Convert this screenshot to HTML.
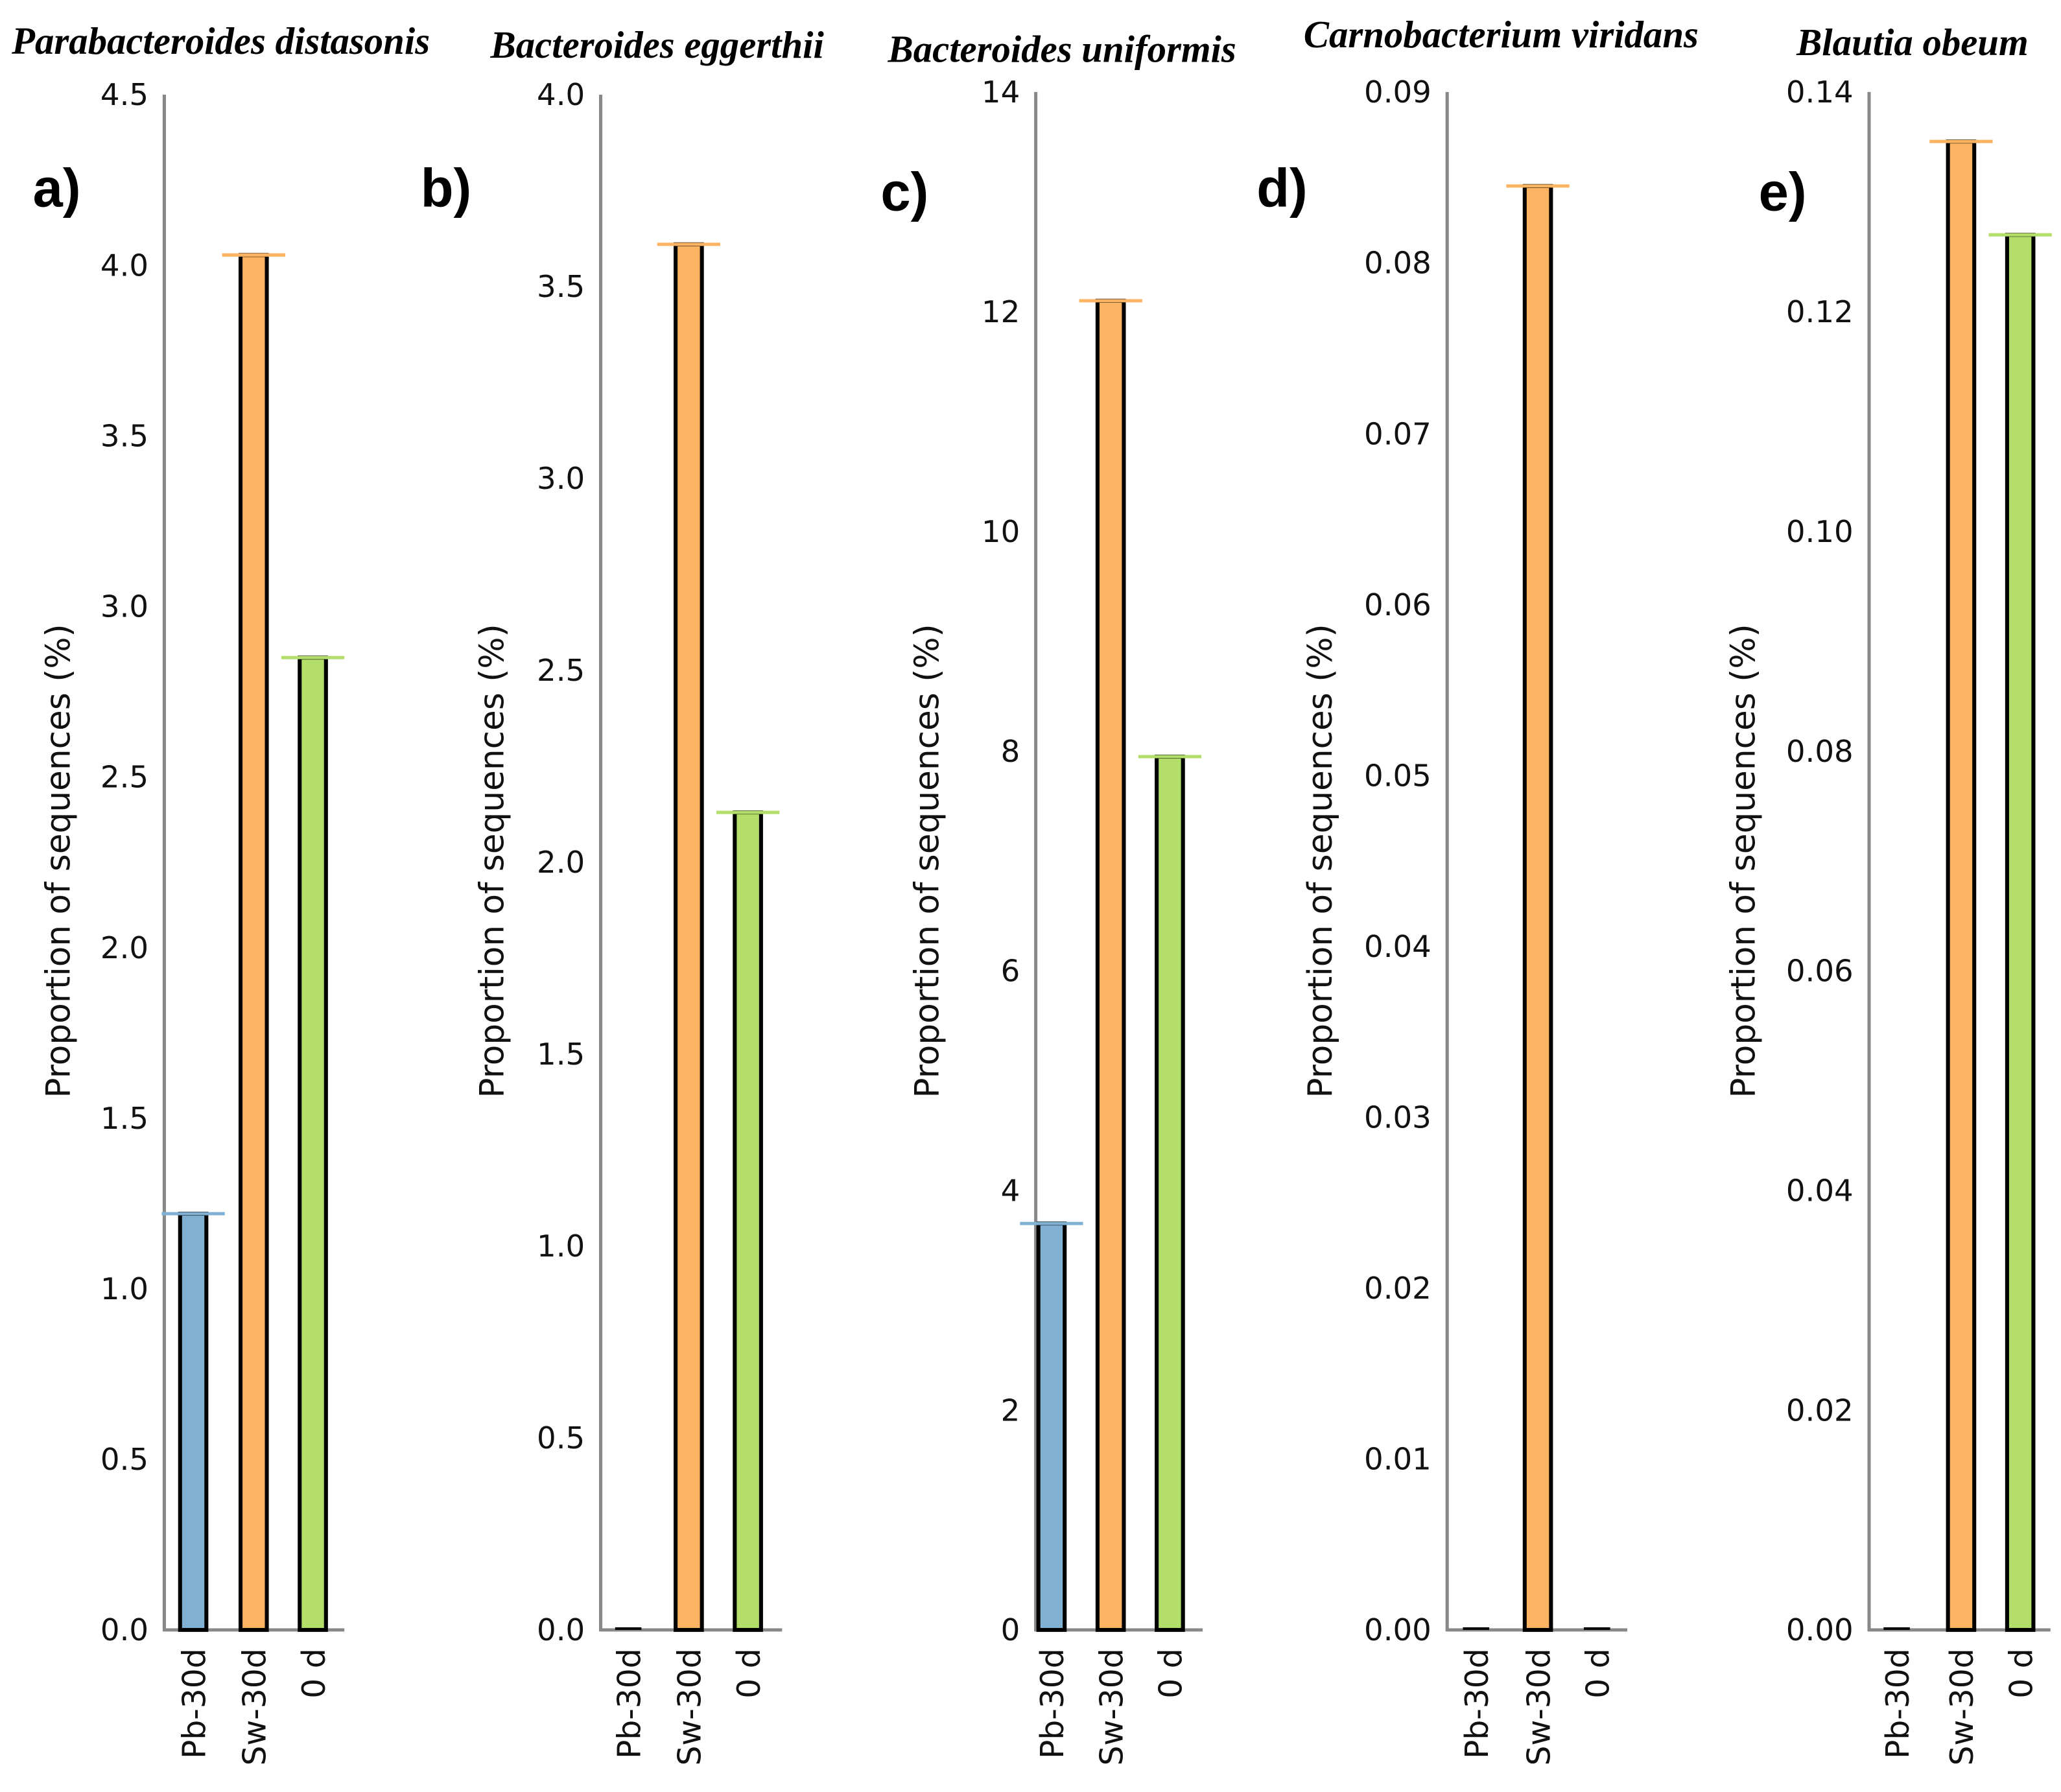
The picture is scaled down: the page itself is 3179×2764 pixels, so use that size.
<!DOCTYPE html>
<html><head><meta charset="utf-8"><style>
html,body{margin:0;padding:0;background:#fff;}
svg{display:block;}
</style></head><body>
<svg id="fig" width="3179" height="2764" viewBox="0 0 1568 1363.3" preserveAspectRatio="none" xmlns="http://www.w3.org/2000/svg"></svg>
<script>
const categories = ["Pb-30d", "Sw-30d", "0 d"];
const titles = ["Parabacteroides distasonis", "Bacteroides eggerthii", "Bacteroides uniformis", "Carnobacterium viridans", "Blautia obeum"];
const panelLetters = ["a)", "b)", "c)", "d)", "e)"];
const valuesA = [1.22, 4.03, 2.85];
const valuesB = [0, 3.61, 2.13];
const valuesC = [3.7, 12.1, 7.95];
const valuesD = [0, 0.0845, 0];
const valuesE = [0, 0.1355, 0.127];
const ticksA = ["0.0","0.5","1.0","1.5","2.0","2.5","3.0","3.5","4.0","4.5"];
const ticksB = ["0.0","0.5","1.0","1.5","2.0","2.5","3.0","3.5","4.0"];
const ticksC = ["0","2","4","6","8","10","12","14"];
const ticksD = ["0.00","0.01","0.02","0.03","0.04","0.05","0.06","0.07","0.08","0.09"];
const ticksE = ["0.00","0.02","0.04","0.06","0.08","0.10","0.12","0.14"];

const colors = ["#80b1d3", "#fdb462", "#b3de69"];
const layout = [
  {ax:125, top:72, xEnd:262, bars:[147,193,238], tx:168, ty:32, lx:25, ly:142, yl:45},
  {ax:457, top:72, xEnd:595, bars:[478,524,569], tx:500, ty:35, lx:320, ly:142, yl:375},
  {ax:788, top:70, xEnd:915, bars:[800,845,890], tx:808, ty:38, lx:670, ly:145, yl:706},
  {ax:1101, top:70, xEnd:1238, bars:[1123,1170,1215], tx:1142, ty:27, lx:956, ly:142, yl:1005},
  {ax:1422, top:70, xEnd:1560, bars:[1443,1492,1537], tx:1455, ty:33, lx:1338, ly:145, yl:1327}
];
const allValues = [valuesA, valuesB, valuesC, valuesD, valuesE];
const allTicks = [ticksA, ticksB, ticksC, ticksD, ticksE];
const bottom = 1240;
const NS = "http://www.w3.org/2000/svg";
const svg = document.getElementById("fig");
function mk(tag, attrs, parent, text){
  const e = document.createElementNS(NS, tag);
  for (const k in attrs) e.setAttribute(k, attrs[k]);
  if (text !== undefined) e.textContent = text;
  parent.appendChild(e);
  return e;
}
for (let p = 0; p < 5; p++){
  const L = layout[p], vals = allValues[p], ticks = allTicks[p];
  const g = mk("g", {}, svg);
  
  
  const yMax = parseFloat(ticks[ticks.length-1]);
  const y = v => bottom - (v / yMax) * (bottom - L.top);
  const t = mk("text", {x:L.tx, y:L.ty+9, "text-anchor":"middle", "font-family":"Liberation Serif, serif", "font-weight":"bold", "font-style":"italic", "font-size":"29"}, g, titles[p]);
  
  
  const lt = mk("text", {x:L.lx, y:L.ly+15, "font-family":"Liberation Sans, sans-serif", "font-weight":"bold", "font-size":"41"}, g, panelLetters[p]);
  
  
  const ya = mk("line", {x1:L.ax, y1:L.top, x2:L.ax, y2:bottom+1, stroke:"#888", "stroke-width":"2.5"}, g);
  
  
  const xa = mk("line", {x1:L.ax-1, y1:bottom, x2:L.xEnd, y2:bottom, stroke:"#888", "stroke-width":"2.5"}, g);
  
  
  ticks.forEach(s => {
    const tk = mk("text", {x:L.ax-12, y:y(parseFloat(s))+8, "text-anchor":"end", "font-family":"DejaVu Sans, sans-serif", "font-size":"23", fill:"#111"}, g, s);
    
    
  });
  const yl = mk("text", {x:0, y:0, transform:`translate(${L.yl+8},655) rotate(-90)`, "text-anchor":"middle", "font-family":"DejaVu Sans, sans-serif", "font-size":"25.5", fill:"#111"}, g, "Proportion of sequences (%)");
  
  
  categories.forEach((c, i) => {
    const cx = L.bars[i], v = vals[i], yt = y(v);
    if (v > 0) {
      const r = mk("rect", {x:cx-10, y:yt, width:20, height:Math.max(0, bottom-yt), fill:colors[i], stroke:"#000", "stroke-width":"3"}, g);
      
      
      const cap = mk("line", {x1:cx-24, y1:yt, x2:cx+24, y2:yt, stroke:colors[i], "stroke-width":"2.5"}, g);
      
      
    } else {
      const z = mk("line", {x1:cx-10, y1:yt-1, x2:cx+10, y2:yt-1, stroke:"#000", "stroke-width":"2"}, g);
      
      
    }
    const xl = mk("text", {x:0, y:0, transform:`translate(${cx+9},${bottom+14}) rotate(-90)`, "text-anchor":"end", "font-family":"DejaVu Sans, sans-serif", "font-size":"24", fill:"#111"}, g, c);
    
    
  });
}
</script>
</body></html>
